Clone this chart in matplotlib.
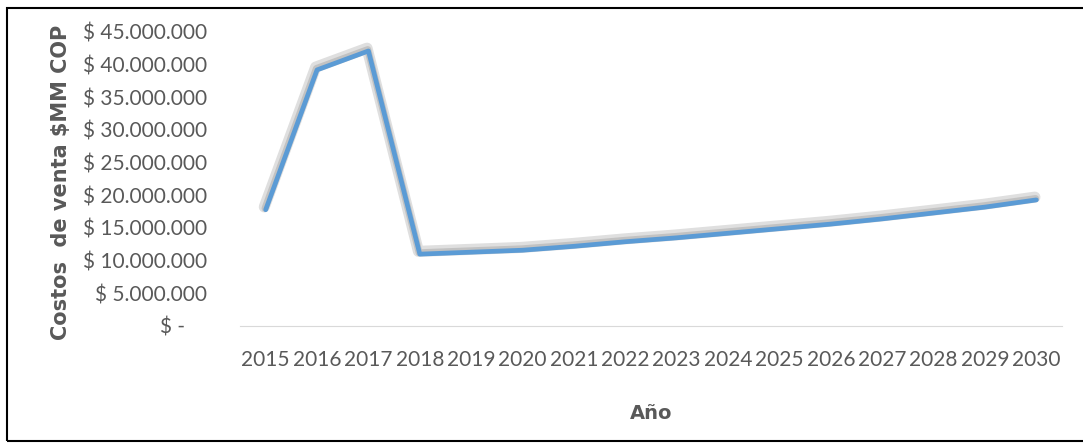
import numpy as np
import matplotlib
matplotlib.use('Agg')
import matplotlib.pyplot as plt
import matplotlib.patheffects as pe
from matplotlib.patches import Rectangle
from matplotlib.ticker import FuncFormatter

years = ['2015', '2016', '2017', '2018', '2019', '2020', '2021', '2022',
         '2023', '2024', '2025', '2026', '2027', '2028', '2029', '2030']
costos = [17.8, 39.2, 42.1, 11.0, 11.3, 11.6, 12.2, 12.9,
          13.5, 14.2, 14.9, 15.6, 16.4, 17.3, 18.2, 19.3]  # millones
yticks = np.arange(0, 46e6, 5e6)

plt.rcParams['font.family'] = ['Lato', 'DejaVu Sans']
gray = '#595959'
fig = plt.figure(figsize=(10.83, 4.46), dpi=100)
ax = fig.add_axes([240/1083, 1-326/446, (1062-240)/1083, (326-32)/446])

x = np.arange(len(years))
ax.plot(x, np.array(costos)*1e6, color='#5B9BD5', lw=3.4, solid_capstyle='round',
        path_effects=[pe.SimpleLineShadow(offset=(-1, 2), shadow_color='gray', alpha=0.25, linewidth=8),
                      pe.SimpleLineShadow(offset=(-0.5, 1), shadow_color='gray', alpha=0.3, linewidth=5),
                      pe.Normal()])

ax.set_xlim(-0.5, len(years)-0.5)
ax.set_ylim(0, 45e6)
ax.set_yticks(yticks)

def fmt(v, pos):
    if v == 0: return '$ -    '
    return '$ ' + '{:,.0f}'.format(v).replace(',', '.')
ax.yaxis.set_major_formatter(FuncFormatter(fmt))
ax.set_xticks(x)
ax.set_xticklabels(years)

for s in ['top', 'right', 'left']:
    ax.spines[s].set_visible(False)
ax.spines['bottom'].set_color('#d9d9d9')
ax.tick_params(length=0)
ax.tick_params(axis='y', pad=24, labelsize=15, labelcolor=gray)
ax.tick_params(axis='x', pad=17, labelsize=15, labelcolor=gray)

ax.set_xlabel('Año', fontsize=14, fontweight='bold', color=gray, labelpad=25, family='DejaVu Sans')
ax.set_ylabel('Costos  de venta $MM COP', fontsize=15, fontweight='bold', color=gray, family='DejaVu Sans')
ax.yaxis.set_label_coords(-0.205, 0.49)

fig.patches.append(Rectangle((7/1083, 5/446), 1.2, 1-13/446, transform=fig.transFigure,
                             fill=False, edgecolor='black', lw=1.5))

fig.savefig('out.png', dpi=100)
